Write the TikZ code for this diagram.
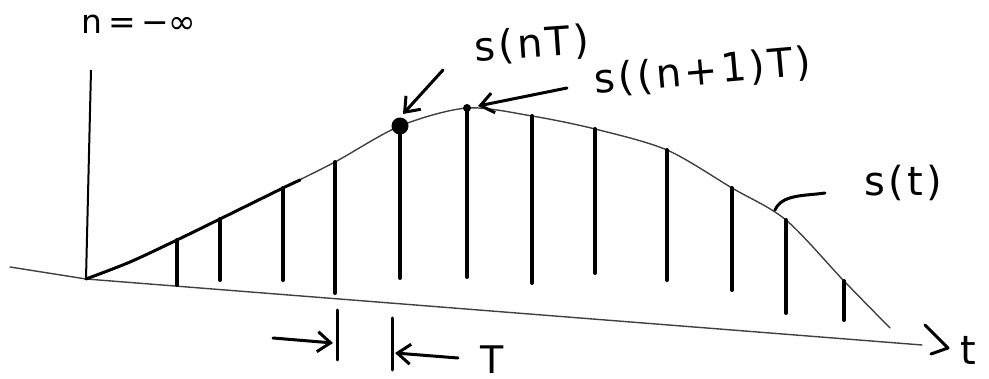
\documentclass[tikz,border=0pt]{standalone}
\usepackage{fontspec}
\newfontfamily\handfont[LetterSpace=8]{DejaVu Sans}
\newfontfamily\plainhand{DejaVu Sans}
\usetikzlibrary{arrows.meta}
\begin{document}
\begin{tikzpicture}[x=1pt,y=-1pt,
  ink/.style={line width=3pt,line cap=round,line join=round},
  pencil/.style={line width=1.4pt,black!75,line cap=round},
  stem/.style={line width=4pt,line cap=round},
  hand/.style={inner sep=0pt,font=\handfont\fontsize{40}{44}\selectfont},
  barb/.style={ink,-{Straight Barb[length=13pt,width=20pt,line width=3pt]}}]
\useasboundingbox (0,0) rectangle (989,379);
% axes
\coordinate (o) at (86,279);
\coordinate (ytop) at (91,70);
\coordinate (bl) at (10,267);
\coordinate (br) at (922,345);
\draw[line width=2pt] (o) -- (ytop);
\draw[pencil] (bl) -- (o) -- (br);
\draw[ink] (925,325) -- (948,348) -- (931,354);
\node[hand] (tl) at (968,350) {t};
\node[inner sep=0pt,font=\plainhand\fontsize{33}{36}\selectfont] (ninf) at (139,24) {n\,=\,−∞};
% signal
\draw[pencil,smooth] plot coordinates {(86,279) (130,262) (177,240) (220,219) (283,188) (335,162) (400,126) (467,108) (532,116) (595,129) (667,150) (732,188) (786,220) (844,281) (890,328)};
\draw[line width=3pt,smooth,line cap=round] plot coordinates {(86,279) (130,262) (177,240) (220,219) (283,188) (300,180)};
% samples
\foreach \i/\x/\t/\b in {1/177/240/285,2/220/219/280,3/283/188/280,4/335/162/293,5/400/126/278,6/467/108/277,7/532/116/283,8/595/129/273,9/667/150/280,10/732/188/290,11/786/220/313,12/844/281/320}{
  \coordinate (t\i) at (\x,\t);
  \coordinate (b\i) at (\x,\b);
  \draw[stem] (t\i) -- (b\i);
}
\fill (t5) circle (8.5);
\fill (t6) circle (4);
% labels
\node[hand,rotate=4] (snT) at (532,45) {s(nT)};
\node[hand,rotate=5] (sn1T) at (703,72) {s((n+1)T)};
\node[hand] (st) at (903,183) {s(t)};
\coordinate (a1) at (443,70);
\coordinate (a2) at (567,88);
\coordinate (e1) at (403,114);
\coordinate (e2) at (478,106);
\draw[barb] (a1) -- (e1);
\draw[barb] (a2) -- (e2);
\coordinate (lst) at (825,193);
\coordinate (cst) at (775,210);
\draw[ink] (lst) .. controls (805,196) and (782,194) .. (cst);
% period marks
\coordinate (p1) at (337,310); \coordinate (p1b) at (337,360);
\coordinate (p2) at (392,318); \coordinate (p2b) at (392,370);
\draw[ink] (p1) -- (p1b);
\draw[ink] (p2) -- (p2b);
\coordinate (q1) at (273,338);
\coordinate (q2) at (458,358);
\draw[barb] (q1) -- (333,343);
\draw[barb] (q2) -- (395,353);
\node[inner sep=0pt,font=\plainhand\fontsize{38}{40}\selectfont,text depth=0pt,anchor=south] (Tl) at (492,374) {T};
\end{tikzpicture}
\end{document}
